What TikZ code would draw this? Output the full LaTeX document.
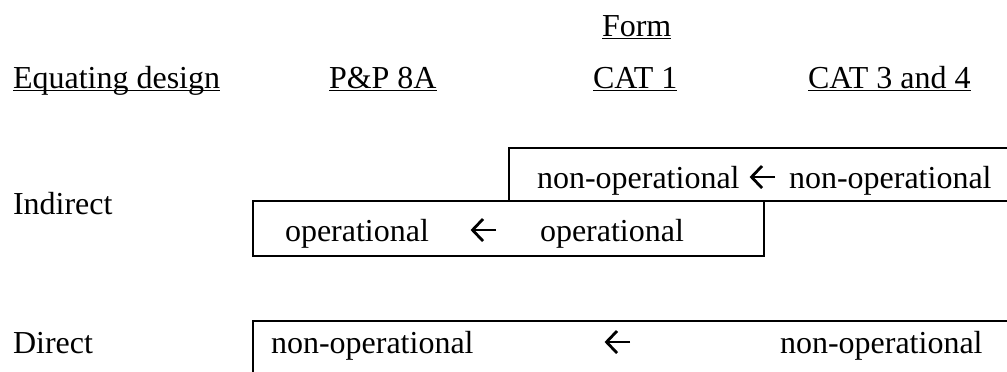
\documentclass[tikz,border=0pt]{standalone}
\usepackage{fontspec}
\setmainfont{Liberation Serif}
\usetikzlibrary{calc}

% underlined label with a rule a little below the baseline
\newcommand{\ulabel}[1]{\setbox0\hbox{#1}\rlap{\rule[-1.3pt]{\wd0}{0.7pt}}\box0}

\tikzset{
  lbl/.style={anchor=base west, inner sep=0pt, outer sep=0pt, font=\fontsize{12pt}{14pt}\selectfont},
  frame/.style={line width=0.8pt, line join=miter},
  larrow/.style={line width=1.05pt, line join=miter, line cap=butt}
}

% a left-pointing chevron arrow, 24 units wide, centred vertically on y
\newcommand{\leftchev}[2]{%
  \draw[larrow] (#1+24,#2) -- (#1+1,#2);
  \draw[larrow] (#1+11,#2-11) -- (#1+0.5,#2) -- (#1+11,#2+11);
}

\begin{document}
\begin{tikzpicture}[x=0.375pt, y=-0.375pt]
\useasboundingbox (0,0) rectangle (1007,371);

% column headings
\node[lbl] (form)  at (602,36) {\ulabel{Form}};
\node[lbl] (eqd)   at (13,88)  {\ulabel{Equating design}};
\node[lbl] (pp8a)  at (329,88) {\ulabel{P\&P 8A}};
\node[lbl] (cat1)  at (593,88) {\ulabel{CAT 1}};
\node[lbl] (cat34) at (808,88) {\ulabel{CAT 3 and 4}};

% row labels
\node[lbl] (indirect) at (13,214) {Indirect};
\node[lbl] (direct)   at (13,353) {Direct};

% indirect design: upper open box (runs off to the right)
\draw[frame] (1010,148) -- (509,148) -- (509,201) -- (1010,201);
\node[lbl] (upA) at (537,188) {non-operational};
\node[lbl] (upB) at (789,188) {non-operational};
\leftchev{751}{177}

% indirect design: lower closed box
\draw[frame] (253,201) rectangle (764,256);
\node[lbl] (loA) at (285,241) {operational};
\node[lbl] (loB) at (540,241) {operational};
\leftchev{472}{230}

% direct design: open box running off right and bottom
\draw[frame] (1010,321) -- (253,321) -- (253,375);
\node[lbl] (dA) at (271,353) {non-operational};
\node[lbl] (dB) at (780,353) {non-operational};
\leftchev{606}{342}
\end{tikzpicture}
\end{document}
